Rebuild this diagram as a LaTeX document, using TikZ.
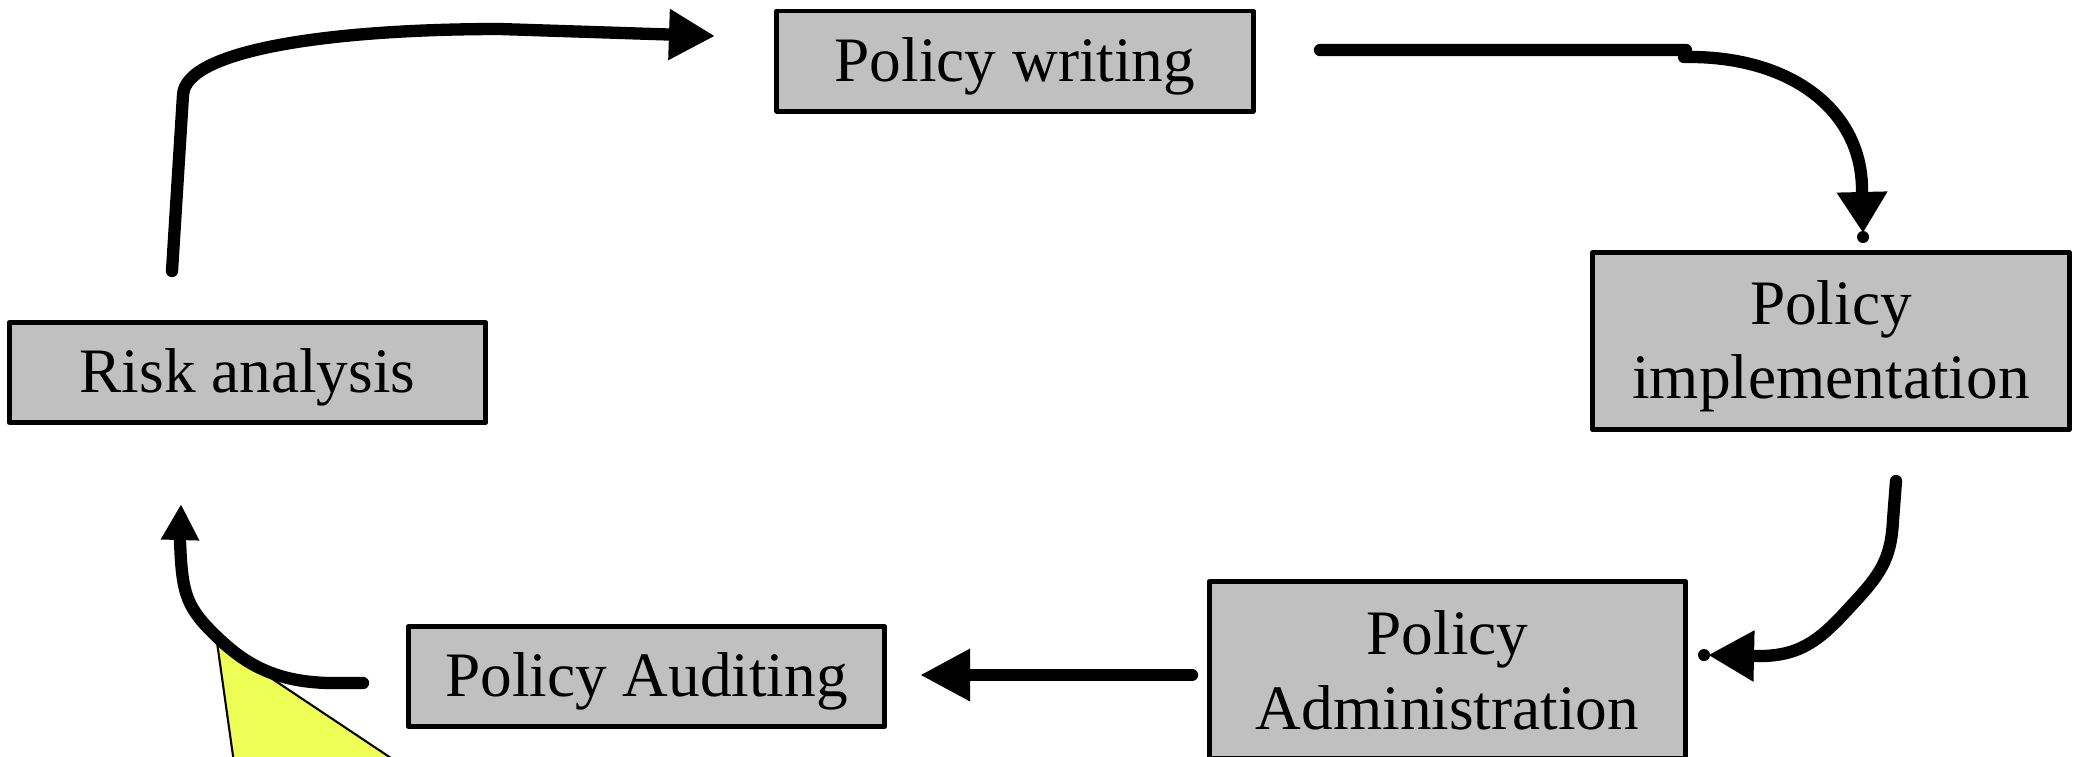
\documentclass[tikz,border=0pt]{standalone}
\usepackage{fontspec}
\setmainfont{Liberation Serif}
\usetikzlibrary{arrows.meta}
\definecolor{boxgray}{RGB}{192,192,192}
\definecolor{calloutyellow}{RGB}{238,255,85}
\newcommand{\tallstrut}{\rule{0pt}{15.5pt}}
\begin{document}
\begin{tikzpicture}[x=0.01cm,y=-0.01cm,
  box/.style={draw=black, line width=1.4pt, fill=boxgray, minimum width=4.76cm, align=center,
    font=\fontsize{18}{21.3}\selectfont, inner sep=0pt, line join=round},
  onebox/.style={box, minimum height=1.0cm},
  twobox/.style={box, minimum height=1.77cm},
  conn/.style={line width=3.5pt, line cap=round, line join=round},
]
\useasboundingbox (0,0) rectangle (2076,756);
\clip (0,0) rectangle (2076,756);

% nodes
\node[onebox] (writing) at (1015,61) {\tallstrut Policy writing};
\node[twobox] (impl) at (1831,341) {\tallstrut Policy\\implementation};
\node[onebox] (risk) at (247.5,372.5) {\tallstrut Risk analysis};
\node[onebox] (audit) at (646.5,676.5) {\tallstrut Policy Auditing};
\node[twobox] (admin) at (1447.5,670) {Policy\\Administration};

% callout triangle
\filldraw[fill=calloutyellow, draw=black, line width=0.6pt] (217,642) -- (235,770) -- (409,770) -- cycle;

% free-end coordinates
\coordinate (a1s) at (172,271);
\coordinate (a1t) at (715,36);
\coordinate (a2s) at (1320,50);
\coordinate (a2t) at (1863,233);
\coordinate (a3s) at (1896,481);
\coordinate (a3t) at (1708,655);
\coordinate (a4s) at (1192,675);
\coordinate (a4t) at (920,675);
\coordinate (a5s) at (363,683);
\coordinate (a5t) at (181,504);

% risk -> writing
\draw[conn, -{Triangle[length=0.46cm,width=0.48cm]}] (a1s) -- (183,95)
  .. controls (185,50) and (330,29) .. (500,29) -- (a1t);
% writing -> implementation
\draw[conn, -{Triangle[length=0.41cm,width=0.48cm]}] (a2s) -- (1686,50) -- (1684,57)
  .. controls (1790,55) and (1862,110) .. (1862,190) -- (a2t);
\fill (1863,237) circle[radius=0.06cm];
% implementation -> administration
\draw[conn, -{Triangle[length=0.46cm,width=0.48cm]}] (a3s) -- (1893,520)
  .. controls (1891,560) and (1880,575) .. (1850,607)
  .. controls (1820,640) and (1800,657) .. (1755,656) -- (a3t);
\fill (1704,655) circle[radius=0.06cm];
% administration -> auditing
\draw[conn, -{Triangle[length=0.5cm,width=0.49cm]}] (a4s) -- (a4t);
% auditing -> risk
\draw[conn, -{Triangle[length=0.36cm,width=0.36cm]}] (a5s) -- (330,683)
  .. controls (270,682) and (240,660) .. (212,632)
  .. controls (185,605) and (182,590) .. (180,541) -- (a5t);
\end{tikzpicture}
\end{document}
